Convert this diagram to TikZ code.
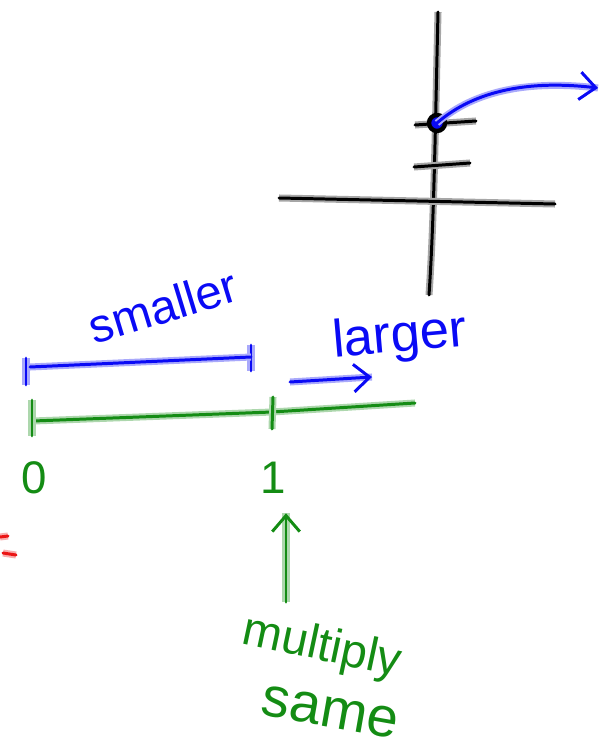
\documentclass[tikz,border=0pt]{standalone}
\usepackage{fontspec}
\setmainfont{Liberation Sans}
\usetikzlibrary{arrows.meta, positioning}

\definecolor{penblue}{RGB}{10,10,245}
\definecolor{pengreen}{RGB}{20,140,20}
\definecolor{penred}{RGB}{235,20,20}

\begin{document}
\begin{tikzpicture}[x=0.02cm, y=-0.02cm, >={Straight Barb[length=3.2mm, width=5.5mm]},
    pen/.style={draw=#1, line width=1.7pt, line cap=round, line join=round,
        preaction={draw=#1!35, line width=4pt, arrows=-}},
    word/.style={text=#1, font=\fontsize{27}{30}\selectfont, inner sep=1pt}]
\useasboundingbox (0,0) rectangle (612,753);

% axes
\coordinate (vtop) at (438,12);
\coordinate (vbot) at (429,295);
\coordinate (hl) at (279,198);
\coordinate (hr) at (555,204);
\draw[pen=black] (vtop) .. controls (435,140) and (434,220) .. (vbot);
\draw[pen=black] (hl) -- (hr);
\draw[pen=black] (415,125) -- (476,121);
\draw[pen=black] (414,167) -- (470,163);
\node[circle, draw=black, line width=2.5pt, fill=penblue, minimum size=0.32cm, inner sep=0] (dot) at (437,123) {};
\coordinate (far) at (598,88);
\draw[pen=penblue, ->] (dot.center) .. controls (475,90) and (530,80) .. (far);

% blue segment
\coordinate (b0) at (30,367);
\coordinate (b1) at (251,357);
\draw[pen=penblue] (26,358) -- (26,385);
\draw[pen=penblue] (251,345) -- (251,371);
\draw[pen=penblue] (b0) -- (b1);
\node[word=penblue, rotate=17] (smaller) at (163,306) {smaller};
\node[word=penblue, font=\fontsize{30}{33}\selectfont, rotate=5] (larger) at (400,338) {larger};
\coordinate (ga) at (290,382);
\coordinate (gb) at (372,377);
\draw[pen=penblue, ->] (ga) -- (gb);

% green number line
\coordinate (g0) at (33,421);
\coordinate (g1) at (272,412);
\coordinate (gr) at (415,403);
\draw[pen=pengreen] (g0) -- (g1) -- (gr);
\draw[pen=pengreen] (32,400) -- (32,436);
\draw[pen=pengreen] (273,397) -- (272,429);
\node[word=pengreen, font=\fontsize{26}{30}\selectfont] (zero) at (34,478) {0};
\node[word=pengreen, font=\fontsize{26}{30}\selectfont] (one) at (273,478) {1};
\node[word=pengreen, rotate=-12] (multiply) at (322,648) {multiply};
\node[word=pengreen, font=\fontsize{32}{35}\selectfont, rotate=-10] (same) at (330,712) {same};
\draw[pen=pengreen, ->] (multiply.north west -| one) ++(13,-5) -- ([xshift=13*0.02cm, yshift=-0.35cm]one.south);

% red mark at the edge
\draw[pen=penred] (0,537) -- (8,536);
\draw[pen=penred] (3,553) -- (16,555);
\end{tikzpicture}
\end{document}
